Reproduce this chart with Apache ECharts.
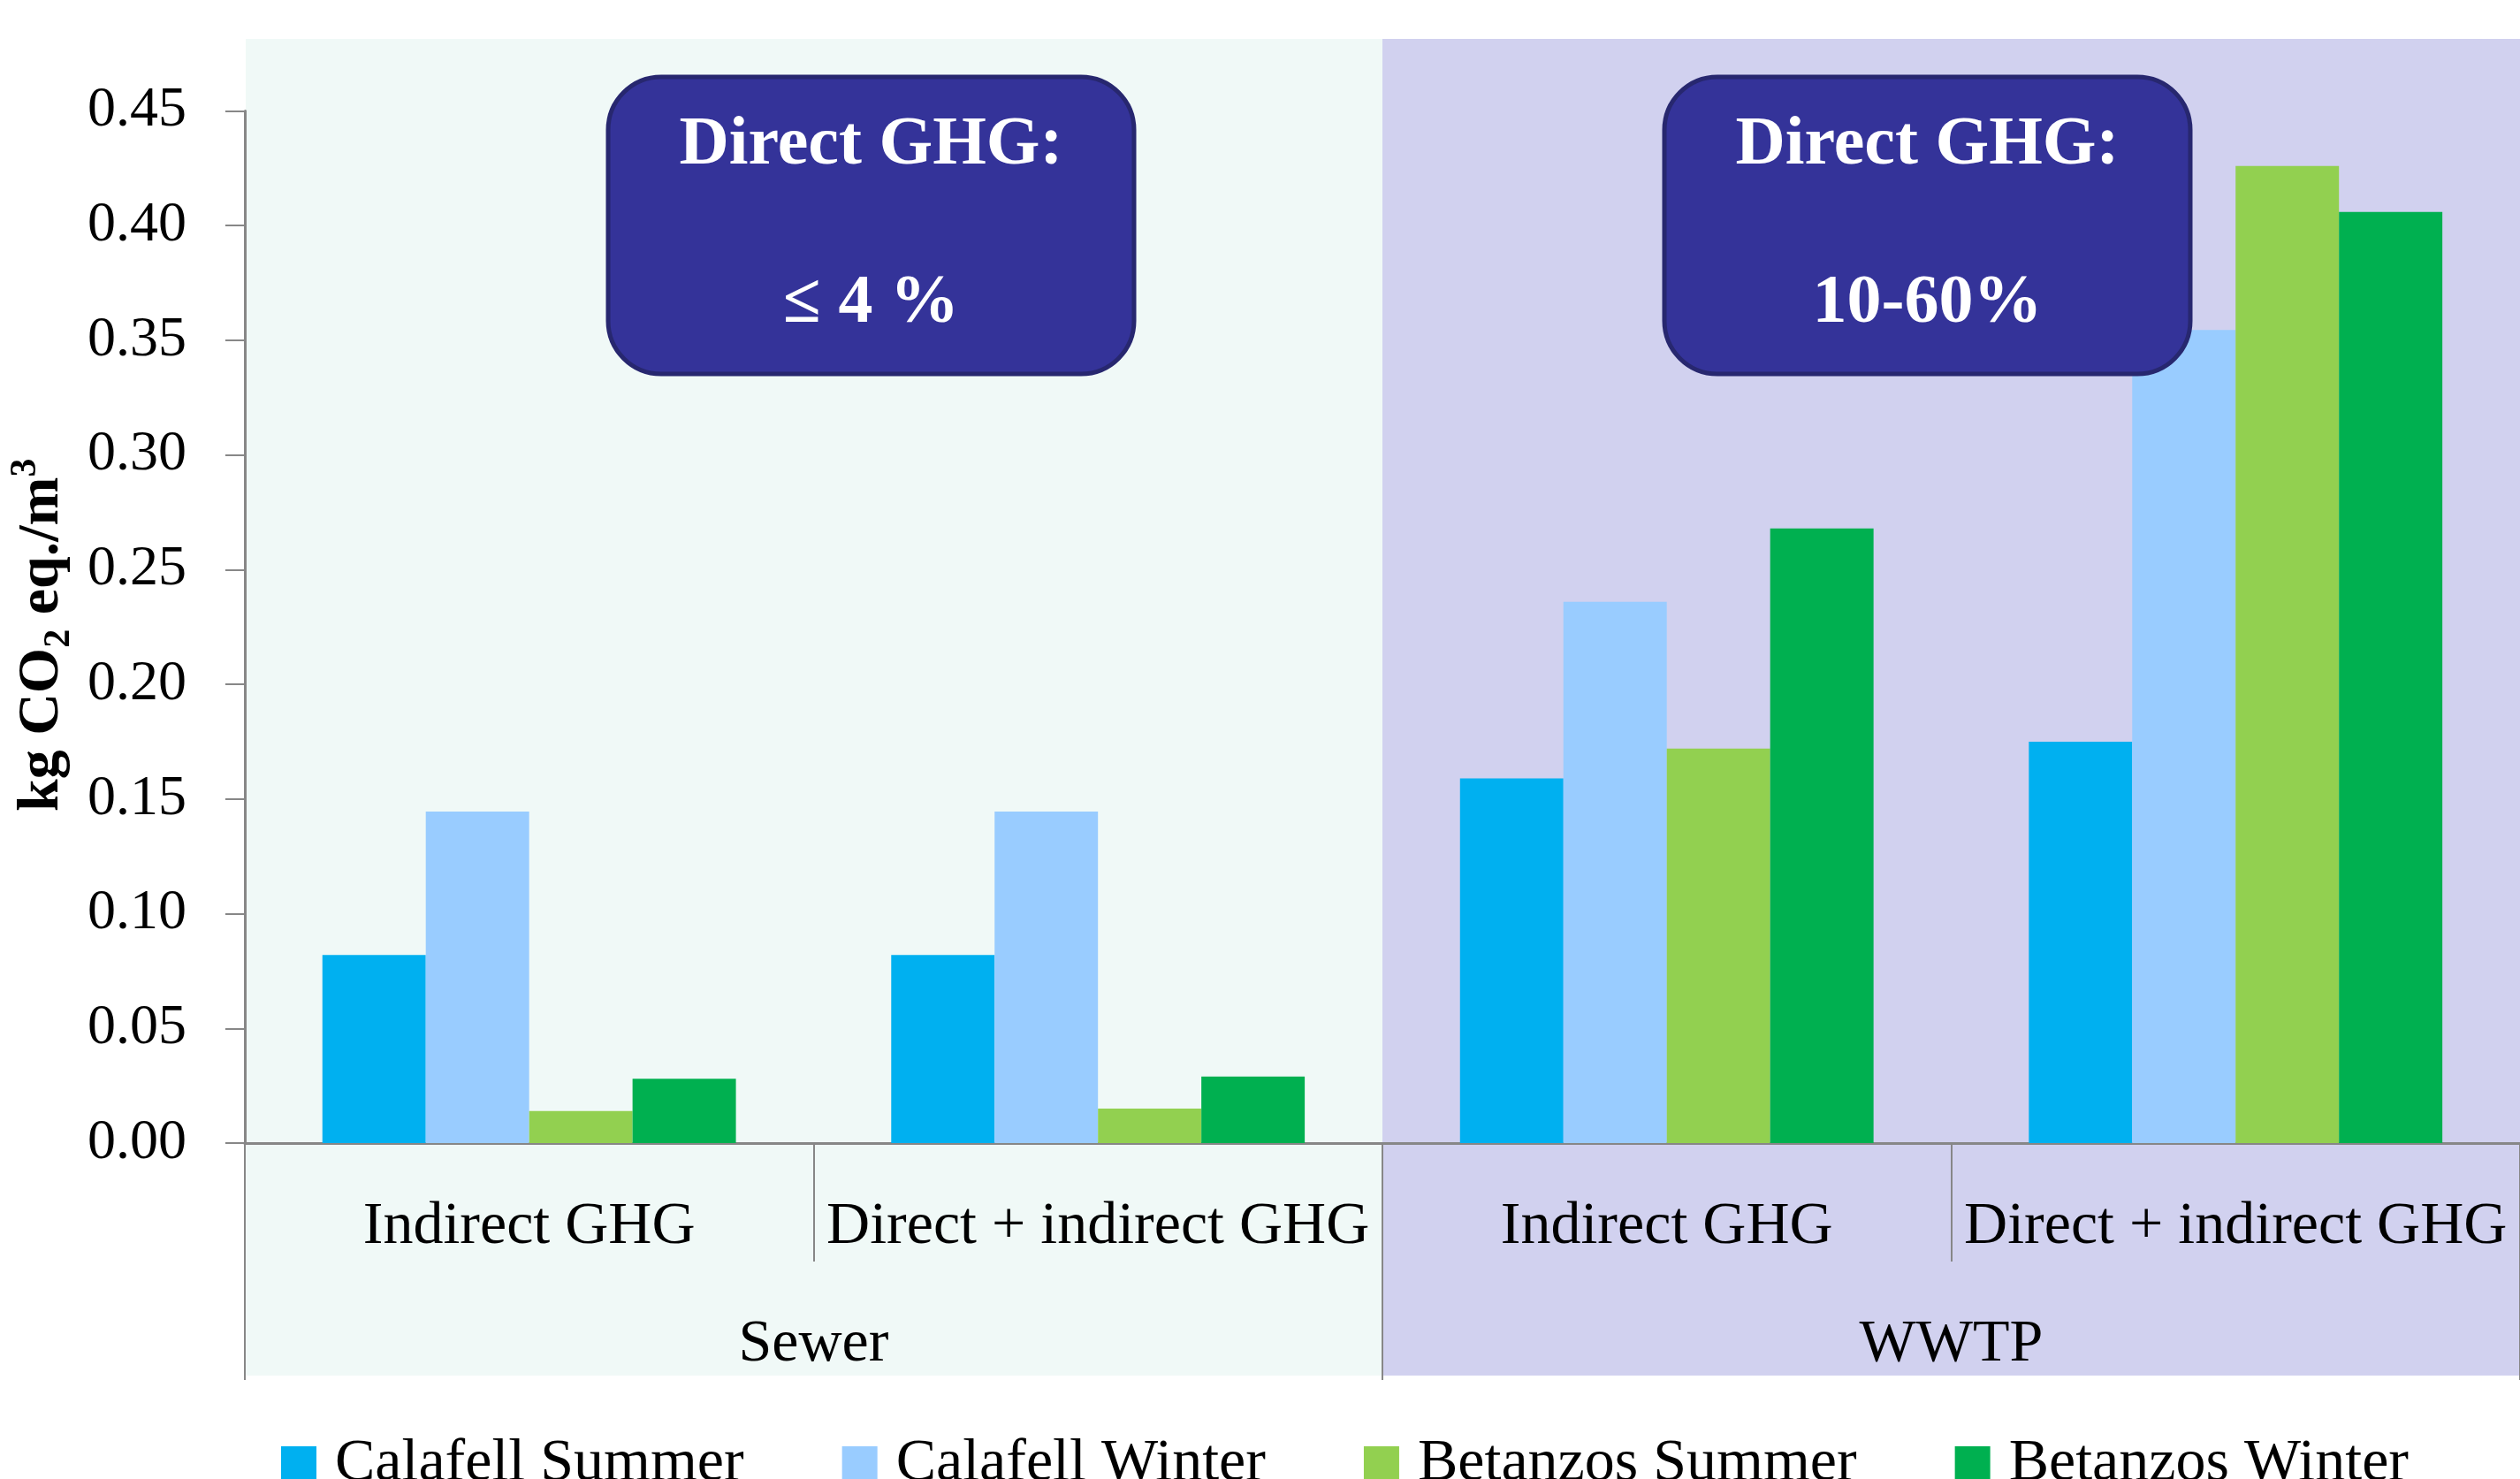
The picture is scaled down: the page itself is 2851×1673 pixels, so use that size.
<!DOCTYPE html>
<html>
<head>
<meta charset="utf-8">
<script src="https://cdn.jsdelivr.net/npm/echarts@6/dist/echarts.min.js"></script>
<style>
html,body{margin:0;padding:0;background:#fff;}
#c{width:2851px;height:1673px;}
</style>
</head>
<body>
<div id="c"></div>
<script>
const categories = ['Indirect GHG', 'Direct + indirect GHG', 'Indirect GHG', 'Direct + indirect GHG'];
const groups = ['Sewer', 'WWTP'];
const seriesNames = ['Calafell Summer', 'Calafell Winter', 'Betanzos Summer', 'Betanzos Winter'];
const calafellSummer = [0.082, 0.082, 0.159, 0.175];
const calafellWinter = [0.1445, 0.1445, 0.236, 0.3545];
const betanzosSummer = [0.014, 0.015, 0.172, 0.426];
const betanzosWinter = [0.028, 0.029, 0.268, 0.406];
const boxTitles = ['Direct GHG:', 'Direct GHG:'];
const boxValues = ['\u2264 4 %', '10-60%'];

const colors = ['#00B0F0', '#99CCFF', '#92D050', '#00B050'];
const seriesValues = [calafellSummer, calafellWinter, betanzosSummer, betanzosWinter];
const FONT = '"Liberation Serif", "Times New Roman", serif';
const AXIS = '#878787';

const chart = echarts.init(document.getElementById('c'), null, {renderer: 'canvas'});

const gridLeft = 276, gridTop = 125.5, gridBottom = 380;

function box(cx, title, value) {
  const w = 595, h = 336, x = cx - w / 2, y = 87;
  return [
    {type: 'rect', z: 100, shape: {x: x, y: y, width: w, height: h, r: 60},
     style: {fill: '#343399', stroke: '#27276F', lineWidth: 5}},
    {type: 'text', z: 101, style: {text: title, x: cx, y: 165, fill: '#fff', font: 'bold 78px ' + FONT, textAlign: 'center', textVerticalAlign: 'middle'}},
    {type: 'text', z: 101, style: {text: value, x: cx, y: 344, fill: '#fff', font: 'bold 78px ' + FONT, textAlign: 'center', textVerticalAlign: 'middle'}}
  ];
}

const option = {
  backgroundColor: '#ffffff',
  animation: false,
  grid: {left: gridLeft, right: 0, top: gridTop, bottom: gridBottom, containLabel: false},
  legend: {
    data: seriesNames,
    left: 313, top: 1617,
    icon: 'rect', itemWidth: 40, itemHeight: 40, itemGap: 111,
    textStyle: {fontFamily: FONT, fontSize: 68, color: '#000', lineHeight: 40, padding: [0, 0, 10, 16]}
  },
  xAxis: [
    {
      type: 'category', data: categories, position: 'bottom',
      axisLine: {show: true, lineStyle: {color: AXIS, width: 3}},
      axisTick: {show: true, length: 134, lineStyle: {color: AXIS, width: 2}},
      axisLabel: {interval: 0, fontFamily: FONT, fontSize: 68, lineHeight: 68, color: '#000', margin: 61},
      splitLine: {show: false}
    },
    {
      type: 'category', data: groups, position: 'bottom', offset: 0,
      axisLine: {show: false},
      axisTick: {show: true, length: 268, lineStyle: {color: AXIS, width: 2}},
      axisLabel: {interval: 0, fontFamily: FONT, fontSize: 68, lineHeight: 68, color: '#000', margin: 194},
      splitLine: {show: false}
    }
  ],
  yAxis: {
    type: 'value', min: 0, max: 0.45, interval: 0.05,
    axisLine: {show: true, lineStyle: {color: AXIS, width: 3}},
    axisTick: {show: true, length: 22, lineStyle: {color: AXIS, width: 2}},
    axisLabel: {fontFamily: FONT, fontSize: 64, color: '#000', margin: 66, formatter: v => v.toFixed(2)},
    splitLine: {show: false},
    name: '{a|kg CO}{s|2}{a| eq./m}{p|3}',
    nameLocation: 'middle', nameRotate: 90, nameGap: 221,
    nameTextStyle: {
      verticalAlign: 'middle', padding: [0, 18, 0, 0],
      rich: {
        a: {fontFamily: FONT, fontWeight: 'bold', fontSize: 66, lineHeight: 80, color: '#000'},
        s: {fontFamily: FONT, fontWeight: 'bold', fontSize: 42, lineHeight: 42, verticalAlign: 'bottom', color: '#000'},
        p: {fontFamily: FONT, fontWeight: 'bold', fontSize: 42, lineHeight: 42, verticalAlign: 'top', color: '#000'}
      }
    }
  },
  series: seriesNames.map((n, i) => ({
    name: n, type: 'bar', xAxisIndex: 0, data: seriesValues[i],
    barGap: '0%', barCategoryGap: '27.3%',
    itemStyle: {color: colors[i]}, z: 2
  })),
  graphic: [
    {type: 'rect', z: -10, silent: true, shape: {x: 278, y: 44, width: 1286, height: 1512}, style: {fill: '#F0F9F7'}},
    {type: 'rect', z: -10, silent: true, shape: {x: 1564, y: 44, width: 1287, height: 1512}, style: {fill: '#D1D1EF'}}
  ].concat(box(985.5, boxTitles[0], boxValues[0])).concat(box(2180.5, boxTitles[1], boxValues[1]))
};
chart.setOption(option);
</script>
</body>
</html>
